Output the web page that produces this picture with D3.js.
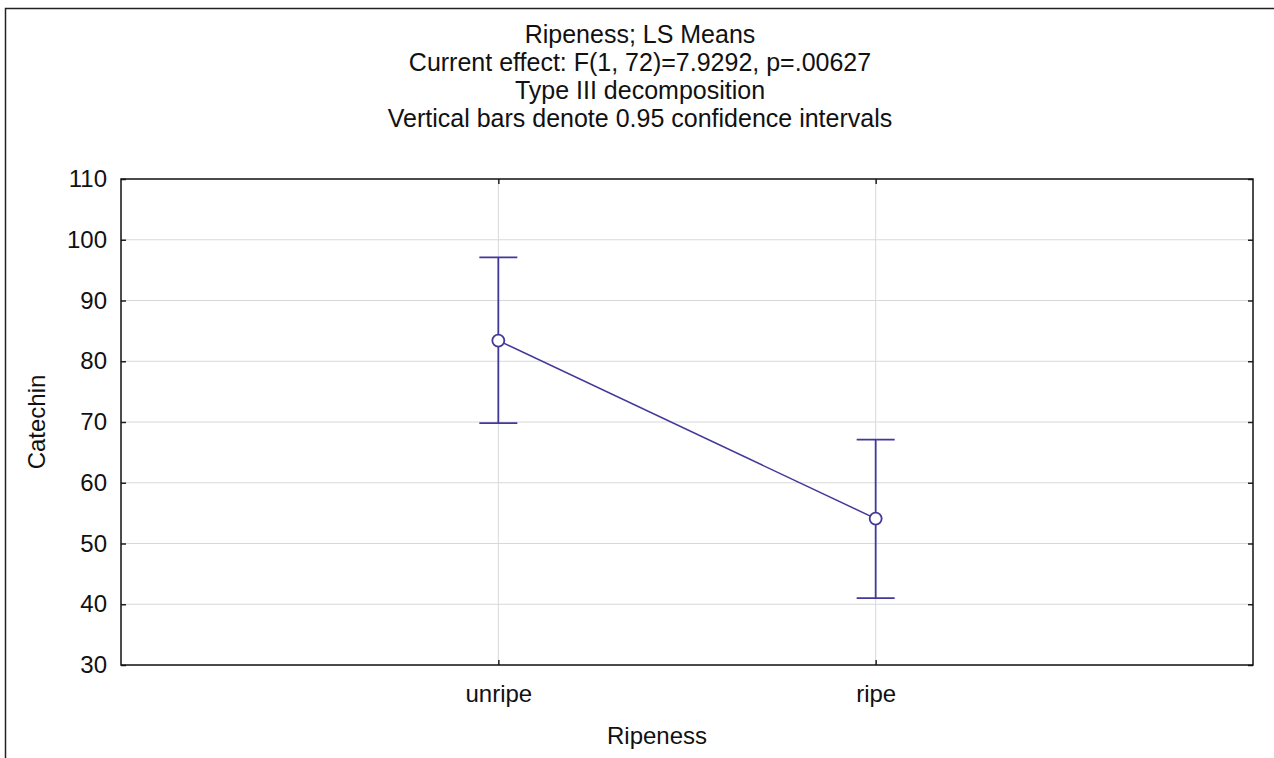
<!DOCTYPE html>
<html>
<head>
<meta charset="utf-8">
<script src="https://cdn.jsdelivr.net/npm/d3@7"></script>
<style>
  html, body { margin: 0; padding: 0; background: #fff; }
  svg { display: block; font-family: "Liberation Sans", Arial, sans-serif; }
</style>
</head>
<body>
<svg id="chart" width="1274" height="758"></svg>
<script>
// LS means of catechin by ripeness, with 0.95 confidence limits
const categories = ["unripe", "ripe"];
const means = [83.4, 54.1];
const lower = [69.8, 41.0];
const upper = [97.1, 67.1];
const yTicks = [30, 40, 50, 60, 70, 80, 90, 100, 110];
const titleLines = [
  "Ripeness; LS Means",
  "Current effect: F(1, 72)=7.9292, p=.00627",
  "Type III decomposition",
  "Vertical bars denote 0.95 confidence intervals"
];

const m = { left: 121, right: 1253, top: 179, bottom: 665 };
const ink = "#42389a";
const fontSize = 24;
const titleSize = 25;

const svg = d3.select("#chart");

// outer frame of the graph window
svg.append("rect")
  .attr("x", 5.5).attr("y", 8.5)
  .attr("width", 1400).attr("height", 900)
  .attr("fill", "none").attr("stroke", "#222").attr("stroke-width", 1.5);

const x = d3.scalePoint()
  .domain(categories)
  .range([m.left, m.right])
  .padding(1);

const y = d3.scaleLinear()
  .domain([30, 110])
  .range([m.bottom, m.top]);

// grid
const grid = svg.append("g");
grid.selectAll("line.h")
  .data(yTicks.filter(d => d > 30 && d < 110))
  .join("line")
  .attr("x1", m.left).attr("x2", m.right)
  .attr("y1", d => y(d)).attr("y2", d => y(d))
  .attr("stroke", "#d8d8d8").attr("stroke-width", 1);
grid.selectAll("line.v")
  .data(categories)
  .join("line")
  .attr("x1", d => x(d)).attr("x2", d => x(d))
  .attr("y1", m.top).attr("y2", m.bottom)
  .attr("stroke", "#d8d8d8").attr("stroke-width", 1);

// axes (ticks drawn inward)
const tickLen = 5;
const yAxisL = svg.append("g")
  .attr("transform", `translate(${m.left},0)`)
  .call(d3.axisLeft(y).tickValues(yTicks).tickSizeInner(-tickLen).tickSizeOuter(0).tickPadding(14));
const yAxisR = svg.append("g")
  .attr("transform", `translate(${m.right},0)`)
  .call(d3.axisRight(y).tickValues(yTicks).tickSizeInner(-tickLen).tickSizeOuter(0).tickFormat(""));
const xAxisB = svg.append("g")
  .attr("transform", `translate(0,${m.bottom})`)
  .call(d3.axisBottom(x).tickSizeInner(-tickLen).tickSizeOuter(0).tickPadding(20));
const xAxisT = svg.append("g")
  .attr("transform", `translate(0,${m.top})`)
  .call(d3.axisTop(x).tickSizeInner(-tickLen).tickSizeOuter(0).tickFormat(""));

[yAxisL, yAxisR, xAxisB, xAxisT].forEach(g => {
  g.select(".domain").remove();
  g.selectAll(".tick line").attr("stroke", "#222").attr("stroke-width", 1.5);
  g.selectAll(".tick text")
    .attr("font-family", "Liberation Sans, Arial, sans-serif")
    .attr("font-size", fontSize).attr("fill", "#111");
});
xAxisB.selectAll(".tick text").attr("dy", "0.71em");

// plot frame
svg.append("rect")
  .attr("x", m.left).attr("y", m.top)
  .attr("width", m.right - m.left).attr("height", m.bottom - m.top)
  .attr("fill", "none").attr("stroke", "#111").attr("stroke-width", 1.5);

// titles
svg.append("g").selectAll("text")
  .data(titleLines)
  .join("text")
  .attr("x", 640)
  .attr("y", (d, i) => 43 + i * 28)
  .attr("text-anchor", "middle")
  .attr("font-size", titleSize).attr("fill", "#111")
  .text(d => d);

// axis titles
svg.append("text")
  .attr("x", 657)
  .attr("y", 744)
  .attr("text-anchor", "middle")
  .attr("font-size", fontSize).attr("fill", "#111")
  .text("Ripeness");
svg.append("text")
  .attr("transform", `translate(45,${(m.top + m.bottom) / 2}) rotate(-90)`)
  .attr("text-anchor", "middle")
  .attr("font-size", fontSize).attr("fill", "#111")
  .text("Catechin");

// series
const rows = categories.map((c, i) => ({ c, mean: means[i], lo: lower[i], hi: upper[i] }));
const plot = svg.append("g");

plot.append("path")
  .datum(rows)
  .attr("fill", "none").attr("stroke", ink).attr("stroke-width", 1.5)
  .attr("d", d3.line().x(d => x(d.c)).y(d => y(d.mean)));

const capHalf = 19;
const bars = plot.selectAll("g.err").data(rows).join("g");
bars.append("line")
  .attr("x1", d => x(d.c)).attr("x2", d => x(d.c))
  .attr("y1", d => y(d.lo)).attr("y2", d => y(d.hi))
  .attr("stroke", ink).attr("stroke-width", 1.8);
bars.append("line")
  .attr("x1", d => x(d.c) - capHalf).attr("x2", d => x(d.c) + capHalf)
  .attr("y1", d => y(d.hi)).attr("y2", d => y(d.hi))
  .attr("stroke", ink).attr("stroke-width", 1.8);
bars.append("line")
  .attr("x1", d => x(d.c) - capHalf).attr("x2", d => x(d.c) + capHalf)
  .attr("y1", d => y(d.lo)).attr("y2", d => y(d.lo))
  .attr("stroke", ink).attr("stroke-width", 1.8);
bars.append("circle")
  .attr("cx", d => x(d.c)).attr("cy", d => y(d.mean))
  .attr("r", 6)
  .attr("fill", "#fff").attr("stroke", ink).attr("stroke-width", 1.8);
</script>
</body>
</html>
